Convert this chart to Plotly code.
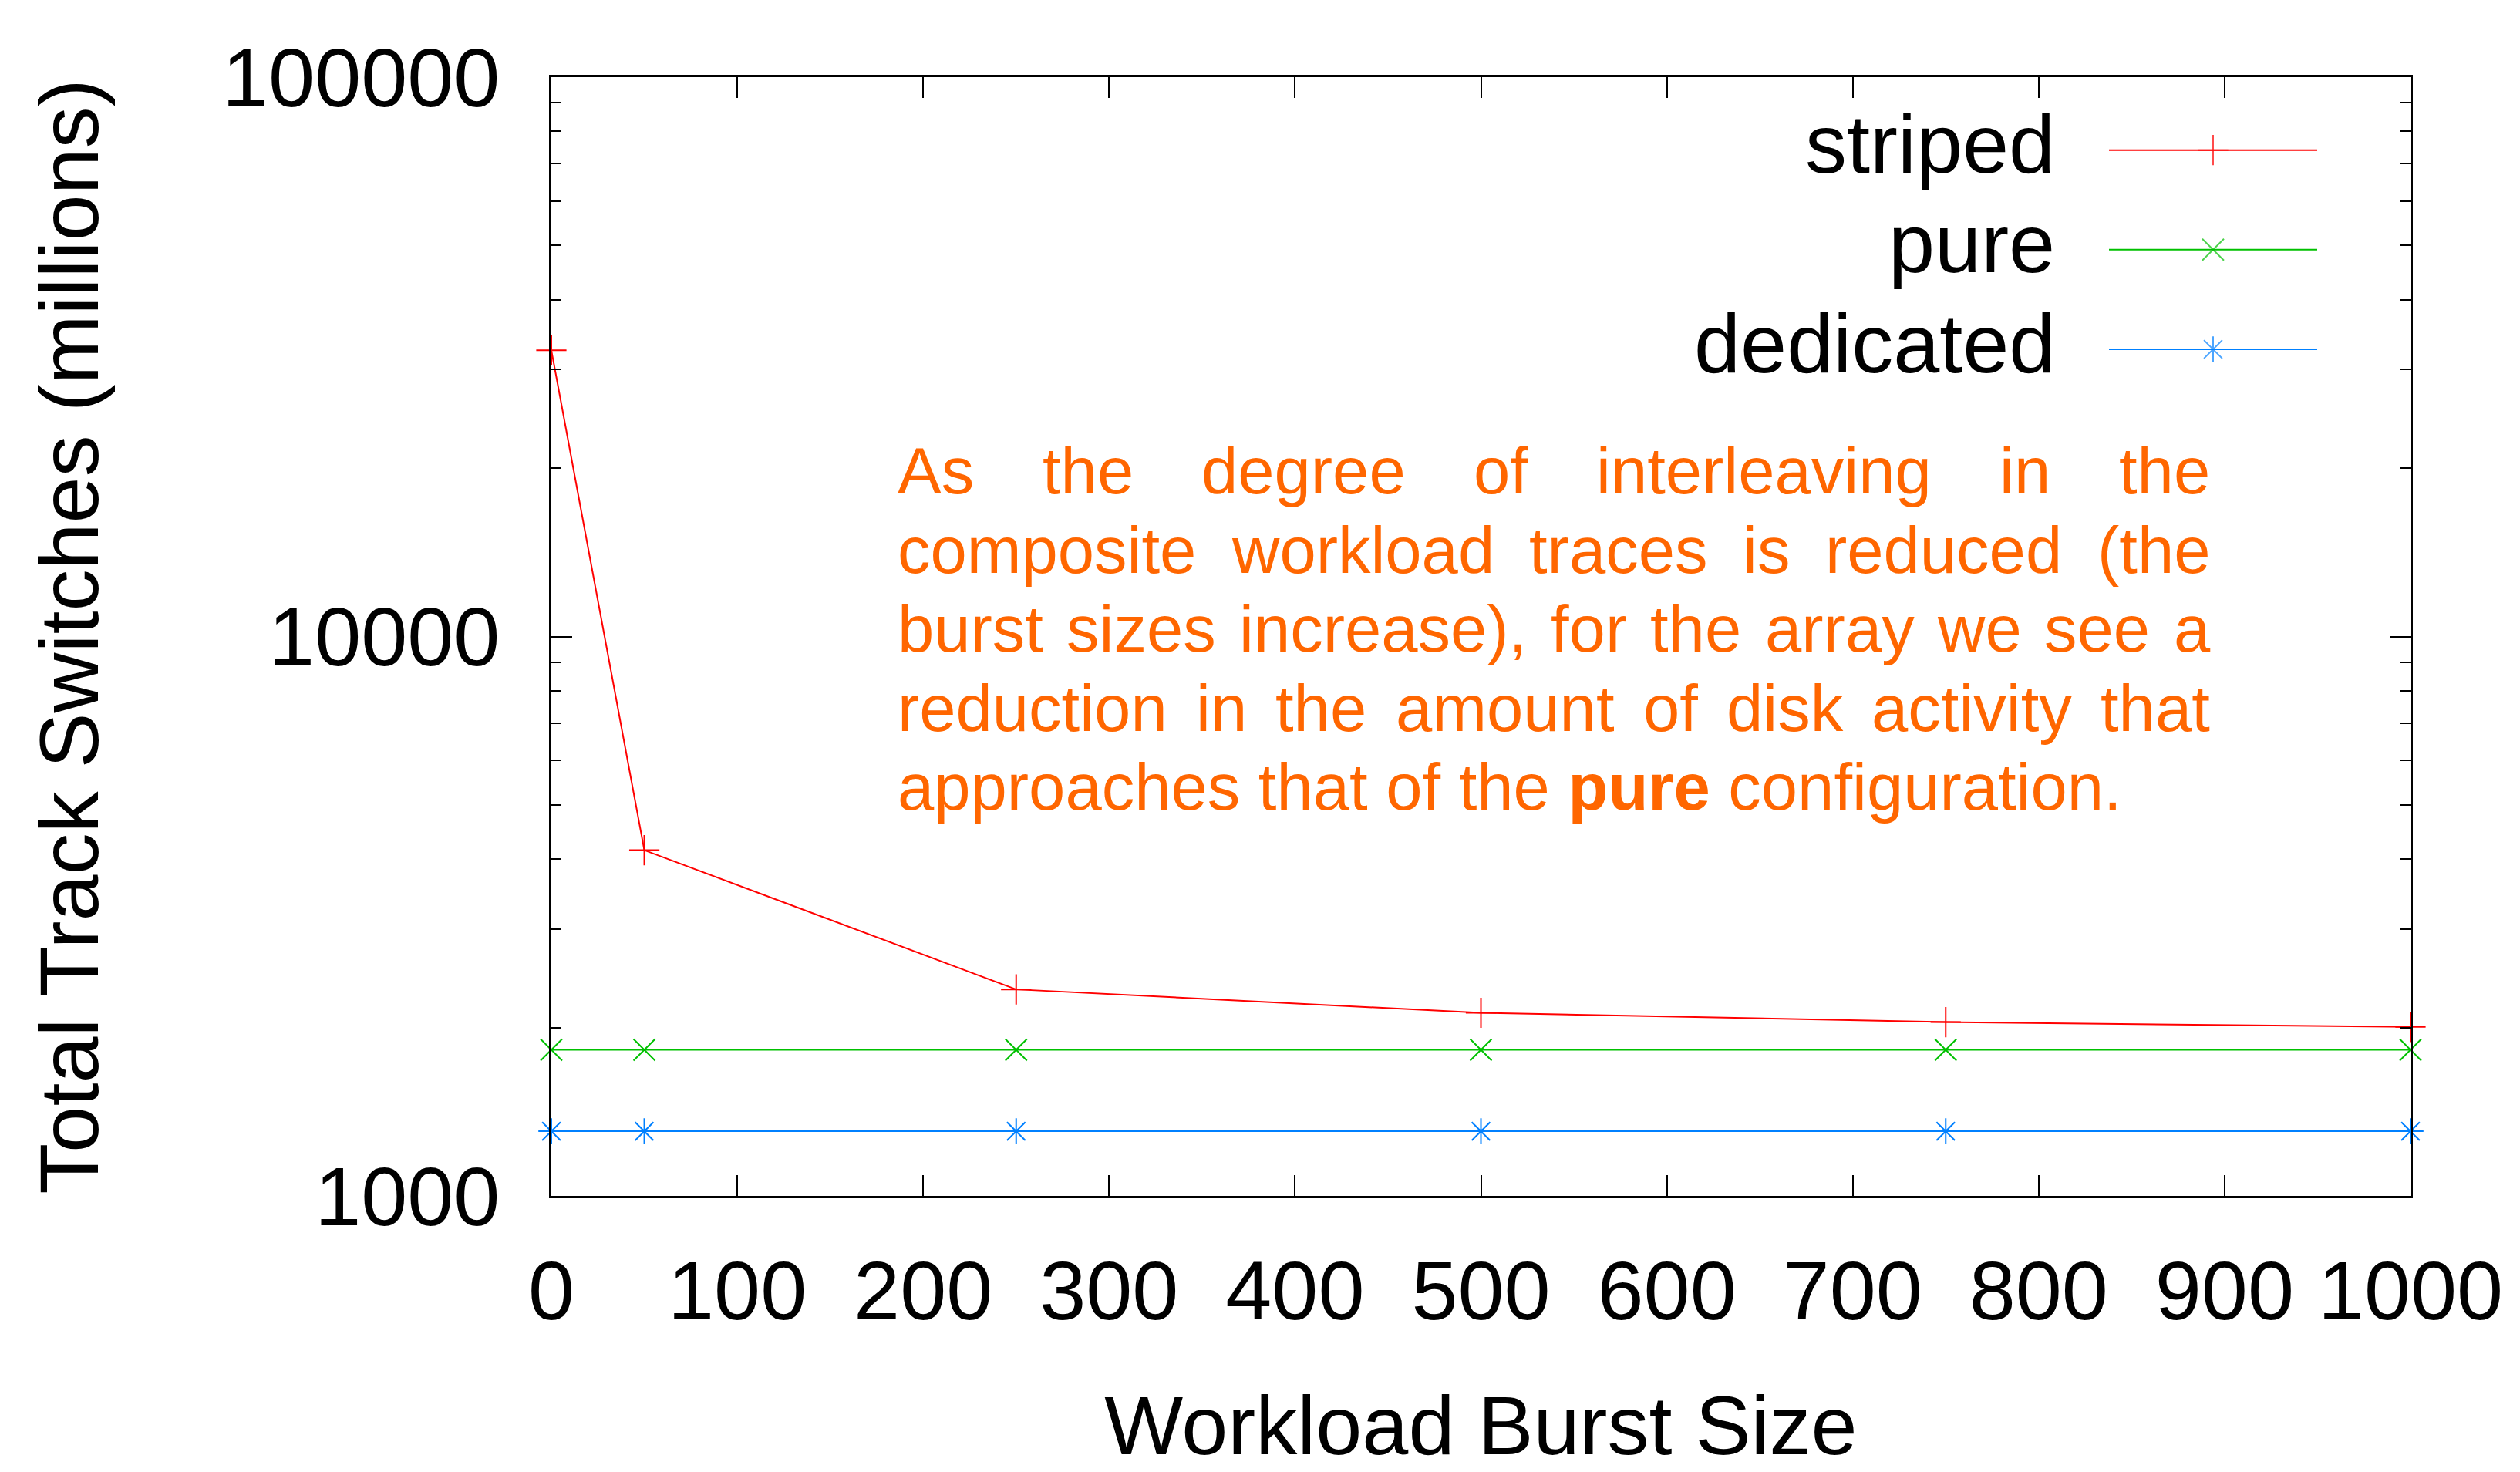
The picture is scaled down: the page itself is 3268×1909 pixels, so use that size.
import plotly.graph_objects as go

# ---------------- data ----------------
burst_size = [0, 50, 250, 500, 750, 1000]
striped = [32500, 4150, 2340, 2125, 2045, 2005]
pure = [1825, 1825, 1825, 1825, 1825, 1825]
dedicated = [1305, 1305, 1305, 1305, 1305, 1305]

series_names = ["striped", "pure", "dedicated"]
x_ticks = [0, 100, 200, 300, 400, 500, 600, 700, 800, 900, 1000]
y_ticks = [1000, 10000, 100000]
y_tick_text = ["1000", "10000", "100000"]
y_minor = [2000, 3000, 4000, 5000, 6000, 7000, 8000, 9000,
           20000, 30000, 40000, 50000, 60000, 70000, 80000, 90000]

x_title = "Workload Burst Size"
y_title = "Total Track Switches (millions)"
note_lines = [
    "As the degree of interleaving in the",
    "composite workload traces is reduced (the",
    "burst sizes increase), for the array we see a",
    "reduction in the amount of disk activity that",
    "approaches that of the <b>pure</b> configuration.",
]

# ---------------- style ----------------
RED, GREEN, BLUE, ORANGE = "#ff0000", "#00c000", "#0080ff", "#ff6600"
FONT = "Liberation Sans, Arial, Helvetica, sans-serif"
W, H = 3268, 1909
L, R, T, B = 715, 3126, 100, 1551   # plot area in pixels
PW, PH = R - L, B - T
FS = 108
NOTE_FS = 85
MS = 28

def px_x(px):
    return (px - L) / PW

def px_y(py):
    return (B - py) / PH

fig = go.Figure()

styles = [
    (striped, RED, "cross-thin"),
    (pure, GREEN, "x-thin"),
    (dedicated, BLUE, "asterisk"),
]
for name, (vals, col, sym) in zip(series_names, styles):
    fig.add_trace(go.Scatter(
        x=burst_size, y=vals, name=name, mode="lines+markers",
        line=dict(color=col, width=2),
        marker=dict(symbol=sym, size=MS, color=col, line=dict(color=col, width=2)),
        cliponaxis=False, showlegend=False,
    ))

# ---------------- manual gnuplot-style key (text left, sample right) ----------------
key_line_y = [194.7, 323.7, 453.0]
key_x0, key_x1, key_xm, key_text_right = 2735, 3005, 2870, 2667
for name, (vals, col, sym), ly in zip(series_names, styles, key_line_y):
    fig.add_trace(go.Scatter(
        x=[px_x(key_x0), px_x(key_xm), px_x(key_x1)], y=[px_y(ly)] * 3,
        xaxis="x2", yaxis="y2", mode="lines+markers",
        line=dict(color=col, width=2),
        marker=dict(symbol=sym, size=[0, MS, 0], color=col, line=dict(color=col, width=2)),
        cliponaxis=False, showlegend=False, hoverinfo="skip",
    ))
    fig.add_annotation(
        x=px_x(key_text_right), y=px_y(ly - 8), xref="paper", yref="paper",
        text=name, showarrow=False, xanchor="right", yanchor="middle",
        font=dict(size=FS, color="black", family=FONT),
    )

# ---------------- justified note text ----------------
AW = {'a': 556, 'b': 556, 'c': 500, 'd': 556, 'e': 556, 'f': 278, 'g': 556, 'h': 556,
      'i': 222, 'j': 222, 'k': 500, 'l': 222, 'm': 833, 'n': 556, 'o': 556, 'p': 556,
      'q': 556, 'r': 333, 's': 500, 't': 278, 'u': 556, 'v': 500, 'w': 722, 'x': 500,
      'y': 500, 'z': 500, 'A': 667, '(': 333, ')': 333, ',': 278, '.': 278, ' ': 278}

def text_w(s, fs):
    return sum(AW.get(c, 556) for c in s) * fs / 1000.0

note_left, note_right = 1163, 2865
note_baselines = [640, 743, 845, 948, 1050]
for i, (line, base) in enumerate(zip(note_lines, note_baselines)):
    yc = px_y(base - 0.35 * NOTE_FS)
    if i < len(note_lines) - 1:
        words = line.split()
        widths = [text_w(w, NOTE_FS) for w in words]
        gap = (note_right - note_left - sum(widths)) / (len(words) - 1)
        xx = note_left
        for w, wd in zip(words, widths):
            fig.add_annotation(
                x=px_x(xx), y=yc, xref="paper", yref="paper", text=w,
                showarrow=False, xanchor="left", yanchor="middle", borderpad=0,
                font=dict(size=NOTE_FS, color=ORANGE, family=FONT),
            )
            xx += wd + gap
    else:
        fig.add_annotation(
            x=px_x(note_left), y=yc, xref="paper", yref="paper", text=line,
            showarrow=False, xanchor="left", yanchor="middle", borderpad=0,
            font=dict(size=NOTE_FS, color=ORANGE, family=FONT),
        )

# ---------------- axes ----------------
axis_common = dict(
    showline=True, linecolor="black", linewidth=3, mirror="ticks",
    ticks="inside", tickcolor="black", tickwidth=2, ticklen=27,
    showgrid=False, zeroline=False,
    tickfont=dict(size=FS, color="black", family=FONT),
)
fig.update_layout(
    width=W, height=H,
    margin=dict(l=L, r=W - R, t=T, b=H - B, autoexpand=False),
    paper_bgcolor="white", plot_bgcolor="white",
    font=dict(family=FONT, size=FS, color="black"),
    showlegend=False,
    xaxis=dict(
        range=[0, 1000], tickmode="array", tickvals=x_ticks,
        ticktext=[str(v) for v in x_ticks], ticklabelstandoff=27,
        title=dict(text=x_title, font=dict(size=FS, family=FONT), standoff=99),
        automargin=False, **axis_common,
    ),
    yaxis=dict(
        type="log", range=[3, 5], tickmode="array", tickvals=y_ticks,
        ticktext=y_tick_text, ticklabelstandoff=42,
        minor=dict(tickvals=y_minor, ticks="inside", ticklen=13, tickwidth=2,
                   tickcolor="black", showgrid=False),
        title=dict(text=y_title, font=dict(size=FS, family=FONT), standoff=125),
        automargin=False, **axis_common,
    ),
    xaxis2=dict(overlaying="x", range=[0, 1], visible=False, fixedrange=True),
    yaxis2=dict(overlaying="y", range=[0, 1], visible=False, fixedrange=True),
)

fig.write_html(
    "out.html",
    config={"displayModeBar": False},
    post_script="document.body.style.margin='0';document.body.style.overflow='hidden';",
)
